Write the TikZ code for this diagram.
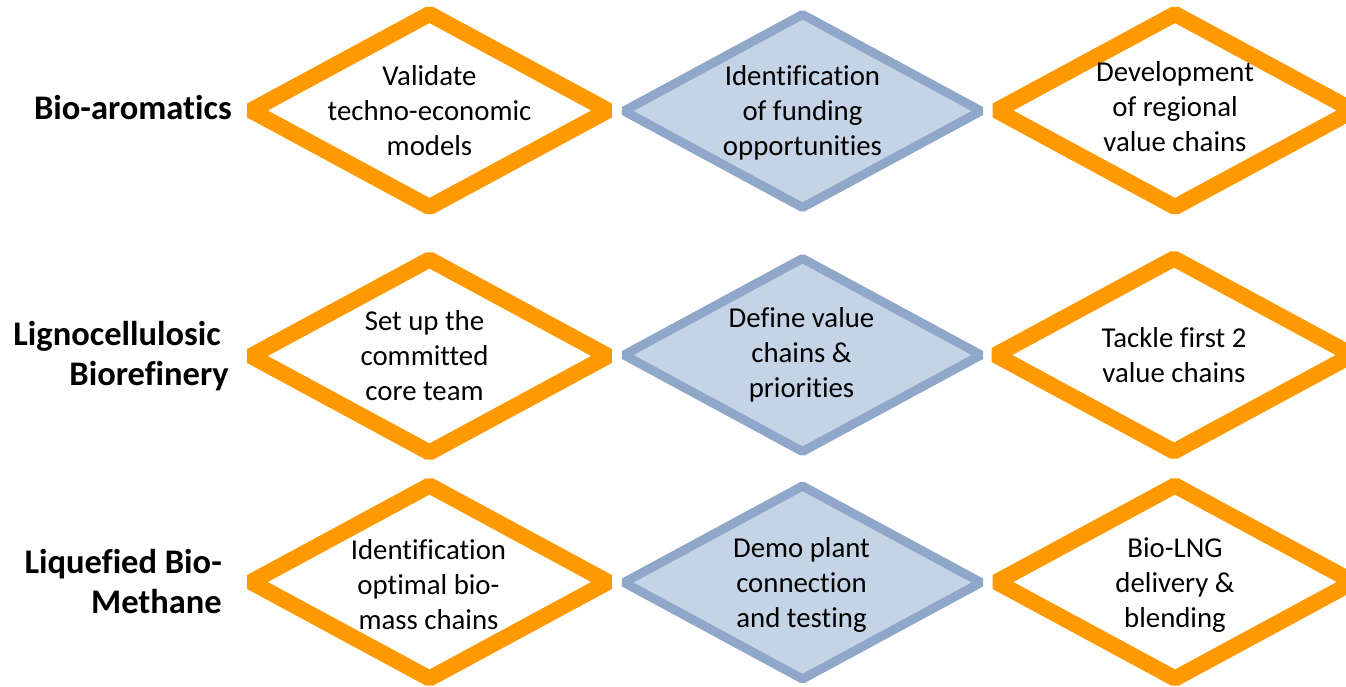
\documentclass[tikz,border=0pt]{standalone}
\usepackage{fontspec}
\setmainfont[Ligatures=CommonOff]{Carlito}
\definecolor{orng}{RGB}{255,153,0}
\definecolor{bstroke}{RGB}{143,167,200}
\definecolor{bfill}{RGB}{197,211,230}
\begin{document}
\begin{tikzpicture}[x=1pt,y=-1pt,
  obox/.style={draw=orng,line width=16pt,line join=bevel,fill=white},
  bbox/.style={draw=bstroke,line width=9pt,line join=bevel,fill=bfill},
  body/.style={align=center,font=\fontsize{28.8}{35}\selectfont,inner sep=0pt},
  rowlab/.style={align=right,font=\fontsize{34.5}{40}\selectfont\bfseries,inner sep=0pt,anchor=east}]
\useasboundingbox (0,0) rectangle (1346,686);
\clip (0,0) rectangle (1346,686);
\def\hw{178.5}
\def\hh{96.5}
% centres
\coordinate (c11) at (429.5,110.5);
\coordinate (c12) at (802.5,111);
\coordinate (c13) at (1175,110.5);
\coordinate (c21) at (429.5,356);
\coordinate (c22) at (802.5,355);
\coordinate (c23) at (1174,355);
\coordinate (c31) at (429.5,582);
\coordinate (c32) at (802.5,582.5);
\coordinate (c33) at (1175,582);
% diamonds
\foreach \r in {1,2,3}{
  \draw[obox] (c\r1) ++(-\hw,0) -- ++(\hw,-\hh) -- ++(\hw,\hh) -- ++(-\hw,\hh) -- cycle;
  \draw[bbox] (c\r2) ++(-\hw,0) -- ++(\hw,-\hh) -- ++(\hw,\hh) -- ++(-\hw,\hh) -- cycle;
  \draw[obox] (c\r3) ++(-\hw,0) -- ++(\hw,-\hh) -- ++(\hw,\hh) -- ++(-\hw,\hh) -- cycle;
}
% texts
\node[body] (t11) at (c11) {Validate\\techno-economic\\models};
\node[body] (t12) at ([yshift=-1.5pt]c12) {Identification\\of funding\\opportunities};
\node[body] (t13) at ([yshift=4pt]c13) {Development\\of regional\\value chains};
\node[body] (t21) at ([xshift=-5pt]c21) {Set up the\\committed\\core team};
\node[body] (t22) at ([xshift=-1pt]c22) {Define value\\chains \&\\priorities};
\node[body] (t23) at (c23) {Tackle first 2\\value chains};
\node[body] (t31) at ([xshift=-1pt,yshift=-2.5pt]c31) {Identification\\optimal bio-\\mass chains};
\node[body] (t32) at ([xshift=-1pt,yshift=-2.5pt]c32) {Demo plant\\connection\\and testing};
\node[body] (t33) at ([yshift=-3pt]c33) {Bio-LNG\\delivery \&\\blending};
% row labels
\node[rowlab] (l1) at (232,108) {Bio-aromatics};
\node[rowlab] (l2) at (229,356) {Lignocellulosic\hspace*{8pt}\\Biorefinery};
\node[rowlab] (l3) at (222,582) {Liquefied Bio-\\Methane};
\end{tikzpicture}
\end{document}
